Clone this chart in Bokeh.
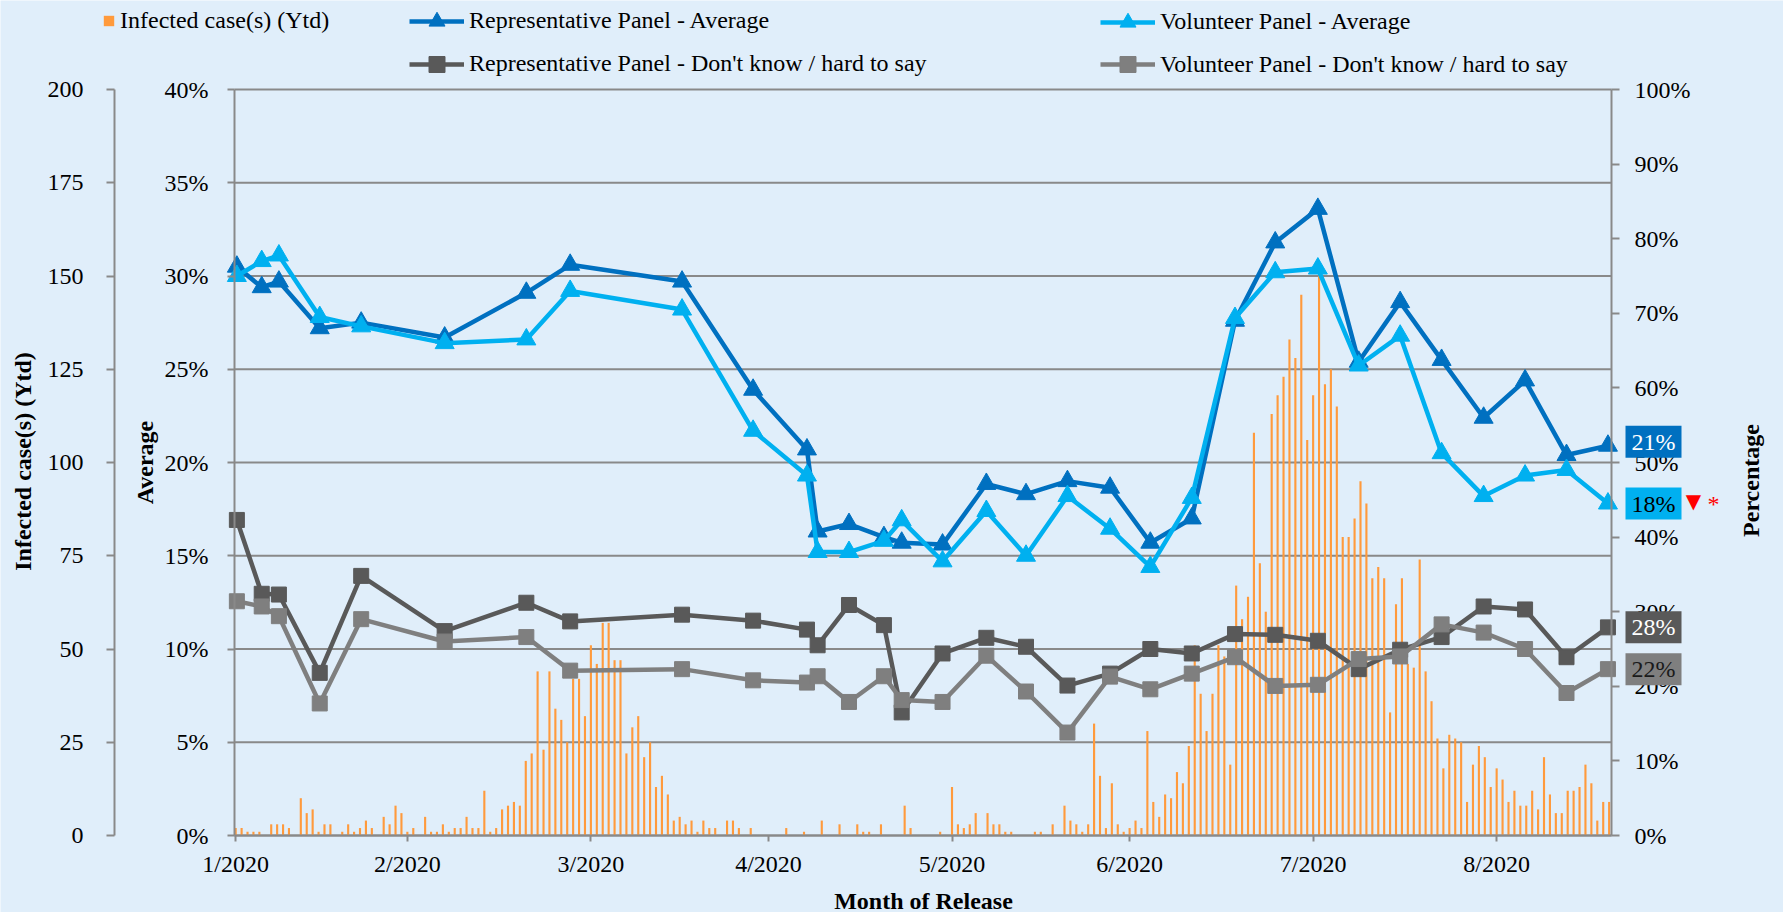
import math
from bokeh.plotting import figure
from bokeh.models import (Range1d, LinearAxis, FixedTicker, NumeralTickFormatter,
                          Legend, LegendItem, Label, BoxAnnotation)
from bokeh.embed import file_html
from bokeh.resources import INLINE

# ---------------- data ----------------
month_labels = ["1/2020", "2/2020", "3/2020", "4/2020", "5/2020", "6/2020", "7/2020", "8/2020"]
month_ticks = [0, 29, 60, 90, 121, 151, 182, 213]

# daily infected cases (day index 0 = first day on the axis)
cases = [
    2, 2, 1, 1, 1, 0, 3, 3, 3, 2,
    0, 10, 6, 7, 1, 3, 3, 0, 1, 3,
    1, 2, 4, 2, 0, 5, 3, 8, 6, 1,
    2, 0, 5, 1, 1, 3, 1, 2, 2, 5,
    2, 2, 12, 1, 2, 7, 8, 9, 8, 20,
    22, 44, 23, 44, 34, 31, 25, 42, 42, 32,
    51, 46, 57, 57, 47, 47, 22, 29, 32, 21,
    25, 13, 16, 11, 4, 5, 3, 4, 1, 4,
    2, 2, 0, 4, 4, 2, 0, 2, 0, 0,
    0, 0, 0, 2, 0, 0, 1, 0, 0, 4,
    0, 0, 3, 0, 0, 3, 1, 1, 0, 3,
    0, 0, 0, 8, 2, 0, 0, 0, 0, 1,
    0, 13, 3, 2, 3, 6, 0, 6, 3, 3,
    1, 1, 0, 0, 0, 1, 1, 0, 3, 0,
    8, 4, 3, 1, 3, 30, 16, 2, 14, 3,
    1, 2, 4, 2, 28, 9, 5, 11, 10, 17,
    14, 24, 51, 38, 28, 38, 51, 48, 19, 67,
    58, 64, 108, 73, 60, 113, 118, 123, 133, 128,
    145, 106, 118, 150, 121, 125, 115, 80, 80, 85,
    95, 89, 69, 72, 69, 33, 62, 69, 46, 45,
    74, 44, 36, 26, 18, 27, 26, 25, 9, 19,
    24, 21, 13, 18, 15, 9, 12, 8, 8, 12,
    7, 21, 11, 6, 6, 12, 12, 13, 19, 14,
    4, 9, 9,
]
days = list(range(len(cases)))

# survey release positions (day index)
release_days = [0.2, 4.4, 7.3, 14.2, 21.2, 35.3, 49.1, 56.5, 75.4, 87.4, 96.5, 98.3,
                103.6, 109.5, 112.5, 119.4, 126.8, 133.5, 140.5, 147.7, 154.5, 161.5,
                168.8, 175.6, 182.8, 189.7, 196.7, 203.7, 210.8, 217.8, 224.8, 231.8]

rep_avg = [30.5, 29.4, 29.7, 27.2, 27.5, 26.7, 29.1, 30.6, 29.7, 23.9, 20.7, 16.3,
           16.7, 16.0, 15.7, 15.6, 18.85, 18.3, 19.0, 18.65, 15.7, 17.0,
           27.6, 31.8, 33.6, 25.4, 28.6, 25.5, 22.4, 24.4, 20.4, 20.9]
vol_avg = [30.0, 30.8, 31.1, 27.8, 27.3, 26.4, 26.6, 29.2, 28.2, 21.7, 19.3, 15.2,
           15.2, 15.8, 16.9, 14.7, 17.4, 15.0, 18.2, 16.45, 14.4, 18.1,
           27.75, 30.2, 30.4, 25.2, 26.8, 20.5, 18.2, 19.3, 19.6, 17.8]
rep_dk = [42.3, 32.4, 32.3, 21.8, 34.8, 27.4, 31.2, 28.7, 29.6, 28.8, 27.6, 25.5,
          30.9, 28.2, 16.5, 24.4, 26.5, 25.3, 20.1, 21.7, 25.0, 24.4,
          27.0, 26.9, 26.1, 22.3, 24.9, 26.6, 30.7, 30.3, 23.9, 27.9]
vol_dk = [31.4, 30.7, 29.4, 17.7, 29.0, 26.0, 26.6, 22.1, 22.3, 20.8, 20.5, 21.35,
          17.9, 21.35, 18.15, 17.9, 24.1, 19.3, 13.8, 21.3, 19.6, 21.7,
          23.9, 20.05, 20.2, 23.65, 24.0, 28.3, 27.2, 25.0, 19.1, 22.3]

avg_ticks = [0, 5, 10, 15, 20, 25, 30, 35, 40]
case_ticks = [0, 25, 50, 75, 100, 125, 150, 175, 200]
pct_ticks = [0, 10, 20, 30, 40, 50, 60, 70, 80, 90, 100]

series_names = ["Infected case(s) (Ytd)", "Representative Panel - Average",
                "Volunteer Panel - Average",
                "Representative Panel - Don't know / hard to say",
                "Volunteer Panel - Don't know / hard to say"]

# ---------------- style / geometry (pixels) ----------------
FONT = "Liberation Serif"
BG = "#E0EEFA"
AXIS_C = "#898989"
C_BAR = "#FF9A3C"
C_REP = "#0070C0"
C_VOL = "#00B0F0"
C_REP_DK = "#595959"
C_VOL_DK = "#7F7F7F"
LW = 4.5

W, H = 1783, 912
PLOT_L, PLOT_R, PLOT_T, PLOT_B = 234, 1611, 89, 835     # data area on the page
CASE_AXIS_X = 114                                      # outer left axis line
X0, X1 = -0.2, 232.4                                   # day range of the data area
PX_X = (PLOT_R - PLOT_L) / (X1 - X0)
PLOT_H = PLOT_B - PLOT_T


def yrange(top):
    per_px = top / PLOT_H
    return Range1d(-(H - PLOT_B) * per_px, top + PLOT_T * per_px)


frac = lambda a: [v / 100.0 for v in a]

# the frame covers the whole canvas; every axis is pinned with fixed_location
p = figure(width=W, height=H, output_backend="svg", toolbar_location=None,
           x_range=Range1d(X0 - PLOT_L / PX_X, X0 + (W - PLOT_L) / PX_X),
           y_range=yrange(0.4), min_border=0,
           background_fill_color=BG, border_fill_color=BG, outline_line_color=None)
p.extra_y_ranges = {"cases": yrange(200), "pct": yrange(1.0)}
p.xgrid.visible = False
p.ygrid.visible = False


def style_axis(ax, tick_out, standoff):
    ax.axis_line_color = AXIS_C
    ax.axis_line_width = 2
    ax.major_tick_line_color = AXIS_C
    ax.major_tick_line_width = 2
    ax.major_tick_out = tick_out
    ax.major_tick_in = 0
    ax.minor_tick_line_color = None
    ax.major_label_text_font = FONT
    ax.major_label_text_font_size = "24px"
    ax.major_label_text_color = "black"
    ax.major_label_standoff = standoff


# x axis
xax = p.xaxis[0]
xax.ticker = FixedTicker(ticks=month_ticks)
xax.major_label_overrides = {t: l for t, l in zip(month_ticks, month_labels)}
xax.bounds = (X0, X1)
xax.fixed_location = 0
style_axis(xax, 6, 9)

# average axis
yax = p.yaxis[0]
yax.ticker = FixedTicker(ticks=[t / 100 for t in avg_ticks])
yax.formatter = NumeralTickFormatter(format="0%")
yax.bounds = (0, 0.4)
yax.fixed_location = X0
style_axis(yax, 7, 19)

# infected cases axis (outer left)
cax = LinearAxis(y_range_name="cases", ticker=FixedTicker(ticks=case_ticks),
                 bounds=(0, 200), fixed_location=X0 - (PLOT_L - CASE_AXIS_X) / PX_X)
style_axis(cax, 8, 23)
p.add_layout(cax, "left")

# percentage axis (right)
pax = LinearAxis(y_range_name="pct", ticker=FixedTicker(ticks=[t / 100 for t in pct_ticks]),
                 formatter=NumeralTickFormatter(format="0%"), bounds=(0, 1),
                 fixed_location=X1)
style_axis(pax, 8, 15)
p.add_layout(pax, "right")

# horizontal gridlines at the average ticks
p.segment(x0=[X0] * len(avg_ticks), x1=[X1] * len(avg_ticks),
          y0=[t / 100 for t in avg_ticks], y1=[t / 100 for t in avg_ticks],
          line_color=AXIS_C, line_width=2)


# axis titles
def title(text, x, y, angle=0.0):
    p.add_layout(Label(x=x, y=H - y, x_units="screen", y_units="screen", text=text,
                       angle=angle, text_align="center", text_baseline="middle",
                       text_font=FONT, text_font_size="24px", text_font_style="bold",
                       text_color="black"))


title(series_names[0], 22, 461, math.pi / 2)
title("Average", 144, 462, math.pi / 2)
title("Percentage", 1750, 480, math.pi / 2)
title("Month of Release", 923, 900)

# ---------------- glyphs ----------------
bars = p.vbar(x=days, top=cases, width=0.36, y_range_name="cases",
              fill_color=C_BAR, line_color=None)

l_rep = p.line(release_days, frac(rep_avg), line_color=C_REP, line_width=LW)
m_rep = p.scatter(release_days, frac(rep_avg), marker="triangle", size=19,
                  fill_color=C_REP, line_color=C_REP)
l_vol = p.line(release_days, frac(vol_avg), line_color=C_VOL, line_width=LW)
m_vol = p.scatter(release_days, frac(vol_avg), marker="triangle", size=19,
                  fill_color=C_VOL, line_color=C_VOL)
l_rdk = p.line(release_days, frac(rep_dk), line_color=C_REP_DK, line_width=LW, y_range_name="pct")
m_rdk = p.scatter(release_days, frac(rep_dk), marker="square", size=15,
                  fill_color=C_REP_DK, line_color=C_REP_DK, y_range_name="pct")
l_vdk = p.line(release_days, frac(vol_dk), line_color=C_VOL_DK, line_width=LW, y_range_name="pct")
m_vdk = p.scatter(release_days, frac(vol_dk), marker="square", size=15,
                  fill_color=C_VOL_DK, line_color=C_VOL_DK, y_range_name="pct")

# ---------------- end-value boxes ----------------
BOX_L, BOX_R, BOX_HALF = 14, 70, 16   # px right of the axis line / half height


def end_box(val, rng, span, fill, tcolor, yoff=0):
    px_y = span / PLOT_H
    yc = val / 100.0 + yoff * px_y
    bkw = dict(left=X1 + BOX_L / PX_X, right=X1 + BOX_R / PX_X,
               bottom=yc - BOX_HALF * px_y, top=yc + BOX_HALF * px_y,
               fill_color=fill, fill_alpha=1.0, line_color=None)
    lkw = dict(x=X1, y=val / 100.0, x_offset=(BOX_L + BOX_R) / 2, y_offset=yoff,
               text=f"{round(val)}%", text_align="center", text_baseline="middle",
               text_font=FONT, text_font_size="24px", text_color=tcolor)
    if rng:
        bkw["y_range_name"] = rng
        lkw["y_range_name"] = rng
    p.add_layout(BoxAnnotation(**bkw))
    p.add_layout(Label(**lkw))


end_box(rep_avg[-1], None, 0.4, C_REP, "white", 4)
end_box(vol_avg[-1], None, 0.4, C_VOL, "black")
end_box(rep_dk[-1], "pct", 1.0, C_REP_DK, "white")
end_box(vol_dk[-1], "pct", 1.0, C_VOL_DK, "#1a1a1a")

p.add_layout(Label(x=X1, y=vol_avg[-1] / 100.0, x_offset=82, y_offset=3, text="\u25BC",
                   text_align="center", text_baseline="middle", text_font="DejaVu Sans",
                   text_font_size="20px", text_color="#FF0000"))
p.add_layout(Label(x=X1, y=vol_avg[-1] / 100.0, x_offset=102, y_offset=0, text="*",
                   text_align="center", text_baseline="middle", text_font=FONT,
                   text_font_size="24px", text_color="#FF0000"))


# ---------------- legends (top strip) ----------------
def add_legend(renderers, label, left, center_y, gw, gh):
    lg = Legend(items=[LegendItem(label=label, renderers=renderers)],
                location=(left, H - center_y - max(gh, 29) / 2),
                orientation="horizontal", padding=0, margin=0, spacing=0,
                border_line_color=None, background_fill_alpha=0,
                label_text_font=FONT, label_text_font_size="24px", label_text_color="black",
                label_standoff=5, glyph_width=gw, glyph_height=gh, label_height=gh if gh > 28 else 28)
    p.add_layout(lg, "center")


add_legend([bars], series_names[0], 102, 19.5, 13, 13)
add_legend([l_rep, m_rep], series_names[1], 409, 20.7, 55, 40)
add_legend([l_vol, m_vol], series_names[2], 1100, 21.7, 55, 40)
add_legend([l_rdk, m_rdk], series_names[3], 409, 63.5, 55, 40)
add_legend([l_vdk, m_vdk], series_names[4], 1100, 64, 55, 40)

html = file_html(p, INLINE, title="chart")
html = html.replace("<body>", '<body style="background-color:%s;">' % BG, 1)
open("out.html", "w").write(html)
